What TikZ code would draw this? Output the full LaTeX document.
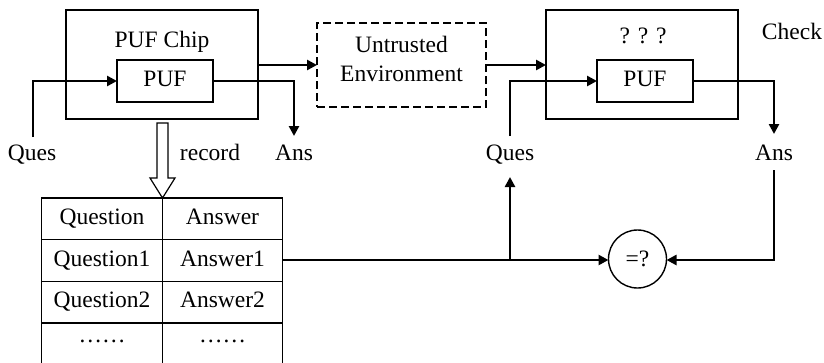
\documentclass[tikz,border=0pt]{standalone}
\usepackage{fontspec}
\setmainfont{Liberation Serif}
\usetikzlibrary{arrows.meta}
\begin{document}
\begin{tikzpicture}[x=1pt,y=-1pt,
  every node/.style={font=\fontsize{23.5}{27}\selectfont, inner sep=0pt, outer sep=0pt},
  lbl/.style={anchor=base},
  box/.style={draw, line width=1.4pt, rectangle},
  conn/.style={line width=2.8pt, -{Triangle[length=10pt,width=10pt]}},
  plain/.style={line width=2.8pt},
  cell/.style={draw, line width=1.4pt, rectangle, minimum width=120.5pt, minimum height=41.7pt}
]
\useasboundingbox (0,0) rectangle (824,362);
\clip (0,0) rectangle (824,362);
% left chip
\node[box, minimum width=192pt, minimum height=109pt] (chip1) at (162,64.5) {};
\node[lbl] (chip1t) at (162,47) {PUF Chip};
\node[box, minimum width=96pt, minimum height=42pt] (puf1) at (165,81) {};
\node[lbl] (puf1t) at (165,86) {PUF};
% untrusted env
\node[box, dashed, dash pattern=on 8pt off 4pt, minimum width=169pt, minimum height=84pt] (env) at (401.5,65) {};
\node[lbl] (envt1) at (401.5,52) {Untrusted};
\node[lbl] (envt2) at (401.5,81) {Environment};
% right chip
\node[box, minimum width=192pt, minimum height=109pt] (chip2) at (642,64.5) {};
\node[lbl] (chip2t) at (643,43) {? ? ?};
\node[box, minimum width=96pt, minimum height=42pt] (puf2) at (645,81) {};
\node[lbl] (puf2t) at (645,86) {PUF};
\node[lbl] (check) at (792,39) {Check};
% labels
\node[lbl] (ques1) at (32,160) {Ques};
\node[lbl] (record) at (210,160) {record};
\node[lbl] (ans1) at (294,160) {Ans};
\node[lbl] (ques2) at (510,160) {Ques};
\node[lbl] (ans2) at (774,160) {Ans};
% table
\node[cell] (h1) at (102,218.8) {};
\node[cell] (h2) at (222.5,218.8) {};
\node[cell] (r11) at (102,260.5) {};
\node[cell] (r12) at (222.5,260.5) {};
\node[cell] (r21) at (102,302.2) {};
\node[cell] (r22) at (222.5,302.2) {};
\node[cell] (r31) at (102,343.9) {};
\node[cell] (r32) at (222.5,343.9) {};
\node[lbl] at (102,224) {Question};
\node[lbl] at (222.5,224) {Answer};
\node[lbl] at (102,266) {Question1};
\node[lbl] at (222.5,266) {Answer1};
\node[lbl] at (102,307) {Question2};
\node[lbl] at (222.5,307) {Answer2};
\node[lbl] at (102,342) {……};
\node[lbl] at (222.5,342) {……};
% compare circle
\node[draw, circle, line width=1.4pt, minimum size=58pt] (cmp) at (637.5,259) {};
\node[lbl] (cmpt) at (637.5,266) {=?};
% coordinates for free ends
\coordinate (q1s) at (33,137);
\coordinate (a1e) at (294,136);
\coordinate (q2s) at (510,136);
\coordinate (a2e) at (774,134);
\coordinate (a2s) at (774,170);
\coordinate (br) at (510,260);
\coordinate (q2e) at (510,177);
% connectors
\draw[conn] (q1s) |- (puf1.west);
\draw[conn] (puf1.east) -| (a1e);
\draw[conn] (chip1.east |- 0,65) -- (env.west |- 0,65);
\draw[conn] (env.east |- 0,65) -- (chip2.west |- 0,65);
\draw[conn] (q2s) |- (puf2.west);
\draw[conn] (puf2.east) -| (a2e);
\draw[plain] (r12.east |- br) -- (br);
\draw[conn] (br) -- (cmp.west |- br);
\draw[conn] (br) -- (q2e);
\draw[conn] (a2s) |- (cmp.east |- br);
% hollow record arrow
\draw[line width=1.2pt, fill=white] (157,123) -- (168,123) -- (168,178) -- (175,178) -- (162.5,198) -- (150,178) -- (157,178) -- cycle;
\end{tikzpicture}
\end{document}
